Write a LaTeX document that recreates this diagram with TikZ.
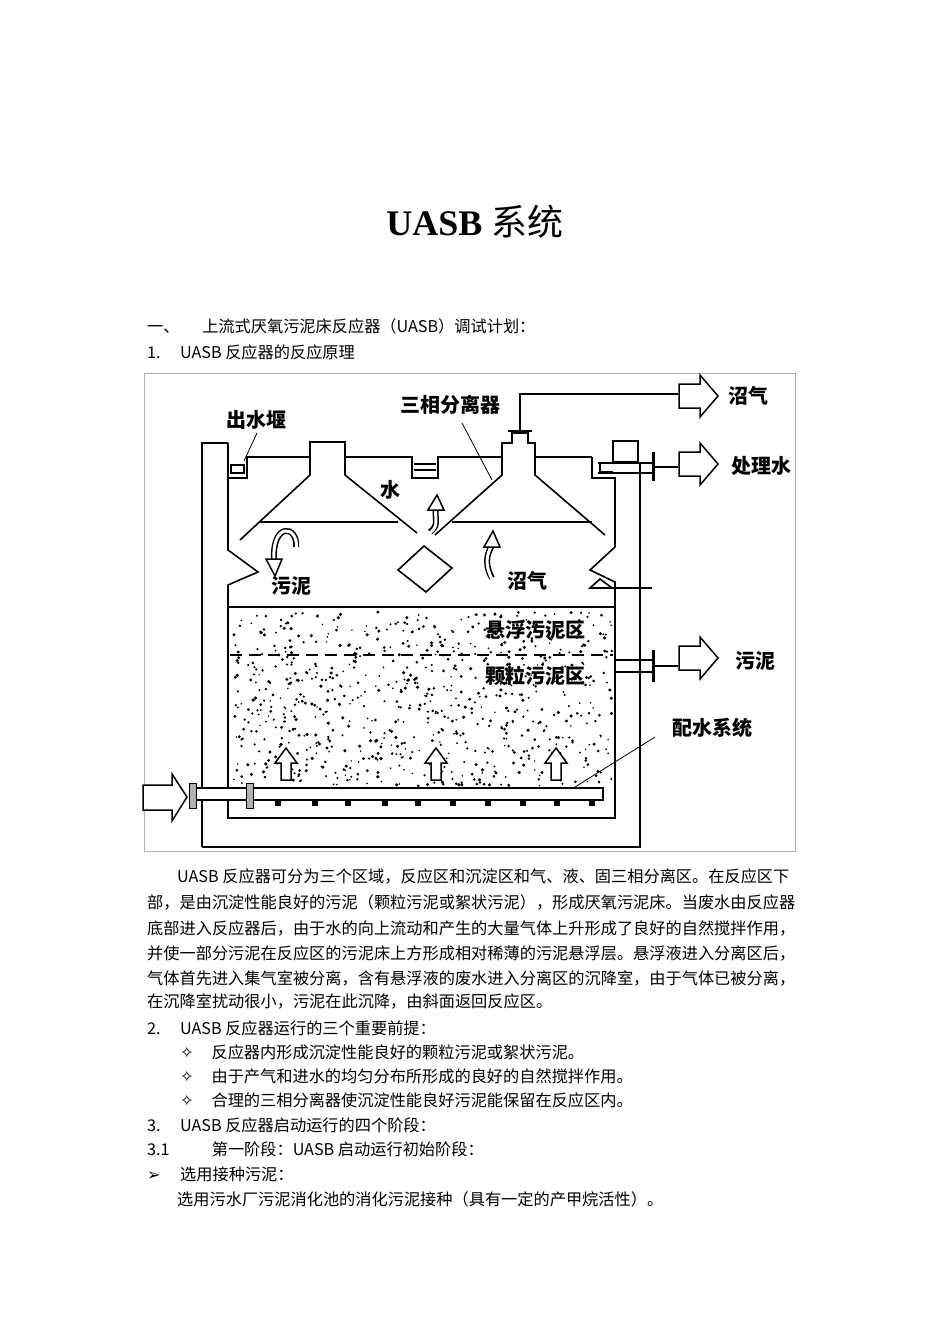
\documentclass[tikz,border=0pt]{standalone}
\usepackage{fontspec}
\setmainfont{Liberation Serif}
\newfontfamily\cjk{Noto Sans CJK SC}
\newfontfamily\sym{DejaVu Sans}
\begin{document}
\begin{tikzpicture}[x=1pt,y=-1pt,
  wall/.style={line width=1.6pt,line join=miter},
  lbl/.style={font=\cjk\fontsize{20}{20}\selectfont\bfseries,inner sep=0pt},
  body/.style={font=\cjk\fontsize{16.2}{16}\selectfont,anchor=base west,inner sep=0pt},
  hollow/.style={draw,line width=1.5pt,fill=white,line join=miter}]
\useasboundingbox (0,0) rectangle (950,1344);
\fill[white] (0,0) rectangle (950,1344);
\node[inner sep=0pt] (title) at (475,222) {\fontsize{36}{36}\selectfont\bfseries UASB {\cjk\mdseries 系统}};
% body text
\node[body] (l1) at (147,332) {一、\hspace{1.4em}上流式厌氧污泥床反应器（UASB）调试计划：};
\node[body] (l2) at (147,358) {1.\hspace{1.2em}UASB 反应器的反应原理};
\node[body] (p1) at (177,882) {UASB 反应器可分为三个区域，反应区和沉淀区和气、液、固三相分离区。在反应区下};
\node[body] (p2) at (147,908) {部，是由沉淀性能良好的污泥（颗粒污泥或絮状污泥），形成厌氧污泥床。当废水由反应器};
\node[body] (p3) at (147,934) {底部进入反应器后，由于水的向上流动和产生的大量气体上升形成了良好的自然搅拌作用，};
\node[body] (p4) at (147,959) {并使一部分污泥在反应区的污泥床上方形成相对稀薄的污泥悬浮层。悬浮液进入分离区后，};
\node[body] (p5) at (147,984) {气体首先进入集气室被分离，含有悬浮液的废水进入分离区的沉降室，由于气体已被分离，};
\node[body] (p6) at (147,1007) {在沉降室扰动很小，污泥在此沉降，由斜面返回反应区。};
\node[body] (l3) at (147,1034) {2.\hspace{1.2em}UASB 反应器运行的三个重要前提：};
\node[body] (b1) at (180,1058) {{\sym ✧}\hspace{1.1em}反应器内形成沉淀性能良好的颗粒污泥或絮状污泥。};
\node[body] (b2) at (180,1082) {{\sym ✧}\hspace{1.1em}由于产气和进水的均匀分布所形成的良好的自然搅拌作用。};
\node[body] (b3) at (180,1106) {{\sym ✧}\hspace{1.1em}合理的三相分离器使沉淀性能良好污泥能保留在反应区内。};
\node[body] (l4) at (147,1131) {3.\hspace{1.2em}UASB 反应器启动运行的四个阶段：};
\node[body] (l5) at (147,1155) {3.1\hspace{2.6em}第一阶段：UASB 启动运行初始阶段：};
\node[body] (l6) at (147,1180) {{\sym ➢}\hspace{1.2em}选用接种污泥：};
\node[body] (l7) at (177,1205) {选用污水厂污泥消化池的消化污泥接种（具有一定的产甲烷活性）。};
% diagram frame
\draw[gray!60,line width=0.6pt] (144,373) rectangle (795,851);
% dots
\pgfmathsetseed{7}
\foreach \i in {1,...,800}{
  \pgfmathsetmacro{\dx}{234+378*rnd}
  \pgfmathsetmacro{\dy}{612+174*rnd}
  \pgfmathsetmacro{\ds}{0.8+1.0*rnd}
  \fill (\dx,\dy) circle (\ds);
}
% outer wall
\draw[wall] (202,847) -- (202,443) -- (228,443);
\draw[wall] (202,847) -- (640,847) -- (640,462);
\draw[wall] (613,462) rectangle (638,441);
% inner wall
\draw[wall] (228,443) -- (228,550) -- (258,572) -- (228,585) -- (228,818) -- (615,818) -- (615,582) -- (590,570) -- (615,547) -- (615,478) -- (592,478) -- (592,457);
\draw[wall] (600,463) -- (600,472) -- (613,472);
\draw[wall] (590,588) -- (600,579) -- (612,588) -- cycle;
\draw[wall] (590,588) -- (652,588);
% weirs and water line
\draw[wall] (228,478) -- (247,478) -- (247,457) -- (310,457);
\draw[wall] (231,465) rectangle (244,473);
\draw[wall] (345,457) -- (412,457) -- (412,478) -- (438,478) -- (438,457) -- (502,457);
\draw[wall] (414,464) -- (436,464) (414,470) -- (436,470);
\draw[wall] (535,457) -- (592,457);
% hoods
\draw[wall] (240,540) -- (310,475) -- (310,442) -- (345,442) -- (345,475) -- (417,533);
\draw[wall] (260,522) -- (398,522);
\draw[wall] (435,535) -- (502,475) -- (502,443) -- (512,443) -- (512,433) -- (528,433) -- (528,443) -- (535,443) -- (535,475) -- (605,535);
\draw[wall] (508,431) -- (532,431);
\draw[wall] (452,522) -- (592,522);
\draw[wall] (520,431) -- (520,394) -- (678,394);
% diamond
\draw[wall] (398,570) -- (424,546) -- (452,568) -- (426,592) -- cycle;
% sludge surface and dashed line
\draw[wall] (228,607) -- (615,607);
\draw[wall,dash pattern=on 12pt off 7pt] (230,655) -- (613,655);
% outlet pipe treated water
\draw[wall] (598,463) -- (653,463) (598,473) -- (653,473);
\draw[line width=3pt] (653,452) -- (653,481);
\draw[wall] (653,467) -- (678,467);
% sludge outlet
\draw[wall] (615,660) -- (653,660) (615,672) -- (653,672);
\draw[line width=3pt] (653,650) -- (653,682);
\draw[wall] (653,666) -- (678,666);
\draw[wall] (640,588) -- (640,847);
% inlet pipe
\draw[wall,fill=white] (193,788) rectangle (603,800);
\fill[gray!60,draw=black,line width=1pt] (189,783) rectangle (196,808);
\fill[gray!60,draw=black,line width=1pt] (246,783) rectangle (253,808);
\foreach \x in {278,315,348,385,418,453,488,523,557,592}
  \fill (\x-3,800) rectangle (\x+3,806);
% block arrows
\draw[hollow] (143,785) -- (172,785) -- (172,774) -- (187,797) -- (172,821) -- (172,810) -- (143,810) -- cycle;
\foreach \c in {396,464,658}
  \draw[hollow] (679,\c-12) -- (700,\c-12) -- (700,\c-21) -- (718,\c) -- (700,\c+21) -- (700,\c+12) -- (679,\c+12) -- cycle;
\foreach \c in {286,436,556}
  \draw[hollow] (\c-5,780) -- (\c-5,763) -- (\c-11,763) -- (\c,748) -- (\c+11,763) -- (\c+5,763) -- (\c+5,780) -- cycle;
% curved arrows
\draw[line width=6pt,line cap=butt] (296,547) .. controls (298,525) and (272,522) .. (274,560);
\draw[white,line width=3pt] (296.5,548) .. controls (298,525) and (272,522) .. (274,559);
\draw[hollow] (266,559) -- (282,559) -- (275,576) -- cycle;
\draw[line width=6pt] (430,532) .. controls (440,525) and (434,518) .. (436,507);
\draw[white,line width=3pt] (430,533) .. controls (440,525) and (434,518) .. (436,506);
\draw[hollow] (428,510) -- (444,510) -- (437,495) -- cycle;
\draw[line width=6pt] (492,578) .. controls (482,560) and (490,550) .. (492,545);
\draw[white,line width=3pt] (492,579) .. controls (482,560) and (490,550) .. (492,544);
\draw[hollow] (484,547) -- (500,547) -- (493,531) -- cycle;
% leaders
\draw[line width=0.8pt] (257,433) -- (244,461);
\draw[line width=0.8pt] (462,423) -- (492,480);
\draw[line width=0.8pt] (655,737) -- (575,787);
% labels
\node[lbl] (t1) at (256,420) {出水堰};
\node[lbl] (t2) at (450,405) {三相分离器};
\node[lbl] (t3) at (390,490) {水};
\node[lbl] (t4) at (291,586) {污泥};
\node[lbl] (t5) at (527,581) {沼气};
\node[lbl] (t6) at (535,630) {悬浮污泥区};
\node[lbl] (t7) at (535,676) {颗粒污泥区};
\node[lbl] (t8) at (712,728) {配水系统};
\node[lbl] (t9) at (748,396) {沼气};
\node[lbl] (t10) at (761,466) {处理水};
\node[lbl] (t11) at (755,661) {污泥};
\end{tikzpicture}
\end{document}
